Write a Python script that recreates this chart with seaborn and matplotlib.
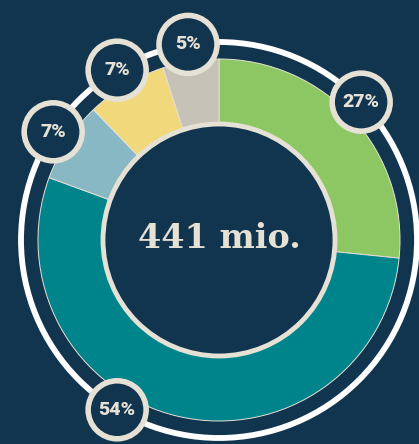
import numpy as np
import matplotlib.pyplot as plt
import seaborn as sns
from matplotlib.patches import Circle

# segment shares, clockwise from 12 o'clock
shares = [26.6, 54.0, 7.2, 7.2, 5.0]
labels = ['27%', '54%', '7%', '7%', '5%']
colors = ['#8dc763', '#00848b', '#87b8c4', '#f1d97b', '#c6c2b8']
label_shift = [-2, 18, 0, 0, 0]  # degrees, nudges the badges along the ring
total_text = '441 mio.'

bg = '#12354f'
cream = '#e6e1d5'

sns.set_theme(style='white')
plt.rcParams['font.family'] = ['Roboto', 'DejaVu Sans']

fig = plt.figure(figsize=(4.19, 4.44), dpi=100, facecolor=bg)
ax = fig.add_axes([0, 0, 1, 1])
ax.set_facecolor(bg)

cx, cy = 219, 204
r_pie, r_hole, r_ring = 181, 116, 198

ax.pie(shares, colors=sns.color_palette(colors), startangle=90, counterclock=False,
       center=(cx, cy), radius=r_pie, frame=True,
       wedgeprops=dict(width=r_pie - r_hole + 10, edgecolor=cream, linewidth=0.7))
ax.set_xlim(0, 419)
ax.set_ylim(0, 444)
ax.set_aspect('equal')
ax.axis('off')

ax.add_patch(Circle((cx, cy), r_ring, fill=False, edgecolor='white', linewidth=4.2, zorder=1))
ax.add_patch(Circle((cx, cy), r_hole, facecolor=bg, edgecolor=cream, linewidth=3.5, zorder=3))
ax.text(cx, cy + 2, total_text, ha='center', va='center', color=cream, fontsize=24,
        fontweight='bold', family=['DejaVu Serif'], zorder=4)

cum = np.cumsum([0] + shares[:-1])
for s, c0, lab, sh in zip(shares, cum, labels, label_shift):
    ang = np.deg2rad(90 - (c0 + s / 2) / sum(shares) * 360 - sh)
    x, y = cx + r_ring * np.cos(ang), cy + r_ring * np.sin(ang)
    ax.add_patch(Circle((x, y), 29, facecolor=bg, edgecolor=cream, linewidth=4, zorder=5))
    ax.text(x, y, lab, ha='center', va='center', color=cream, fontsize=14,
            fontweight='heavy', zorder=6)

fig.savefig('out.png', dpi=100, facecolor=bg)
